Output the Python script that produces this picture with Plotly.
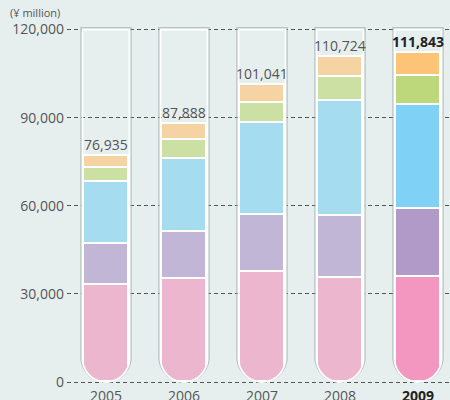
import math
import plotly.graph_objects as go

years = ["2005", "2006", "2007", "2008", "2009"]
seg_pink = [33000, 35000, 37500, 35500, 35700]
seg_purple = [14000, 15900, 19300, 21000, 23100]
seg_blue = [21000, 25100, 31500, 39100, 35400]
seg_green = [4700, 6500, 6700, 8100, 9900]
seg_orange = [4235, 5388, 6041, 7024, 7743]
totals = [76935, 87888, 101041, 110724, 111843]
ytick_vals = [0, 30000, 60000, 90000, 120000]
tube_top = 120000

faded = {"pink": "#edb6cf", "purple": "#c2b6d6", "blue": "#a6dcf0",
         "green": "#cbe0a2", "orange": "#f6d3a2"}
bright = {"pink": "#f397c0", "purple": "#b199c8", "blue": "#7fd1f5",
          "green": "#bcd87a", "orange": "#fdc477"}
BG = "#e6efee"

W, H = 450, 400
ML, MR, MT, MB = 67, 0, 24, 14
plot_w = W - ML - MR
plot_h = H - MT - MB
xr = [-0.5, -0.5 + plot_w / 78.0]
yr = [-1360, 121870]
bar_w = 0.577

xs = list(range(len(years)))
fig = go.Figure()
for key, vals in [("pink", seg_pink), ("purple", seg_purple), ("blue", seg_blue),
                  ("green", seg_green), ("orange", seg_orange)]:
    cols = [bright[key] if y == "2009" else faded[key] for y in years]
    fig.add_trace(go.Bar(x=xs, y=vals, width=bar_w, marker=dict(color=cols,
                         line=dict(color="white", width=1.6)), hoverinfo="skip",
                         showlegend=False))

px_x = plot_w / (xr[1] - xr[0])
px_y = plot_h / (yr[1] - yr[0])
hw = bar_w * px_x / 2.0


def arc_pts(R, n=28):
    pts = []
    for k in range(n + 1):
        th = math.pi + math.pi * k / n
        pts.append((R * math.cos(th), R + R * math.sin(th)))
    return pts


def tube_path(R, top):
    pts = [(-R, top)] + arc_pts(R) + [(R, top)]
    return "M " + " L ".join(f"{a:.2f},{b:.2f}" for a, b in pts) + " Z"


def mask_path(R):
    pts = arc_pts(R) + [(R + 2, R), (R + 2, 0), (-R - 2, 0), (-R - 2, R)]
    return "M " + " L ".join(f"{a:.2f},{b:.2f}" for a, b in pts) + " Z"


top_px = tube_top * px_y
shapes = []
for i in xs:
    common = dict(type="path", xref="x", yref="y", xsizemode="pixel", ysizemode="pixel",
                  xanchor=i, yanchor=0, layer="above")
    shapes.append(dict(common, path=mask_path(hw + 0.8), fillcolor=BG, line=dict(width=0)))
    shapes.append(dict(common, path=tube_path(hw + 2.4, top_px + 1.6),
                       line=dict(color="rgba(150,165,165,0.6)", width=1.6)))
    shapes.append(dict(common, path=tube_path(hw + 1.0, top_px),
                       line=dict(color="white", width=1.8)))

annotations = [dict(text="(¥ million)", xref="paper", yref="paper", x=-5 / plot_w,
                    y=1 + (MT - 12.5) / plot_h, xanchor="right", yanchor="middle",
                    showarrow=False, font=dict(size=11, color="#555"))]
for i, t in enumerate(totals):
    bold = years[i] == "2009"
    annotations.append(dict(text=(f"<b>{t:,}</b>" if bold else f"{t:,}"), x=i, y=t,
                            xref="x", yref="y", yanchor="bottom", yshift=0,
                            showarrow=False,
                            font=dict(size=14, color="#222" if bold else "#555")))

ticktext = [f'<b><span style="color:#222">{y}</span></b>' if y == "2009" else y for y in years]

fig.update_layout(
    width=W, height=H, margin=dict(l=ML, r=MR, t=MT, b=MB),
    paper_bgcolor=BG, plot_bgcolor=BG, barmode="stack", bargap=0,
    font=dict(family="Open Sans", size=14, color="#555"),
    shapes=shapes, annotations=annotations, showlegend=False,
    xaxis=dict(range=xr, tickvals=xs, ticktext=ticktext, showgrid=False, zeroline=False,
               showline=False, ticks="", fixedrange=True, automargin=False),
    yaxis=dict(range=yr, tickvals=ytick_vals, tickformat=",", showgrid=True,
               gridcolor="#555", gridwidth=1, griddash="4px,3px", zeroline=False,
               showline=False, ticks="", fixedrange=True, automargin=False,
               ticklabelstandoff=2),
)
fig.write_html("out.html", config={"displayModeBar": False},
               post_script="document.body.style.margin='0';document.body.style.overflow='hidden';")
